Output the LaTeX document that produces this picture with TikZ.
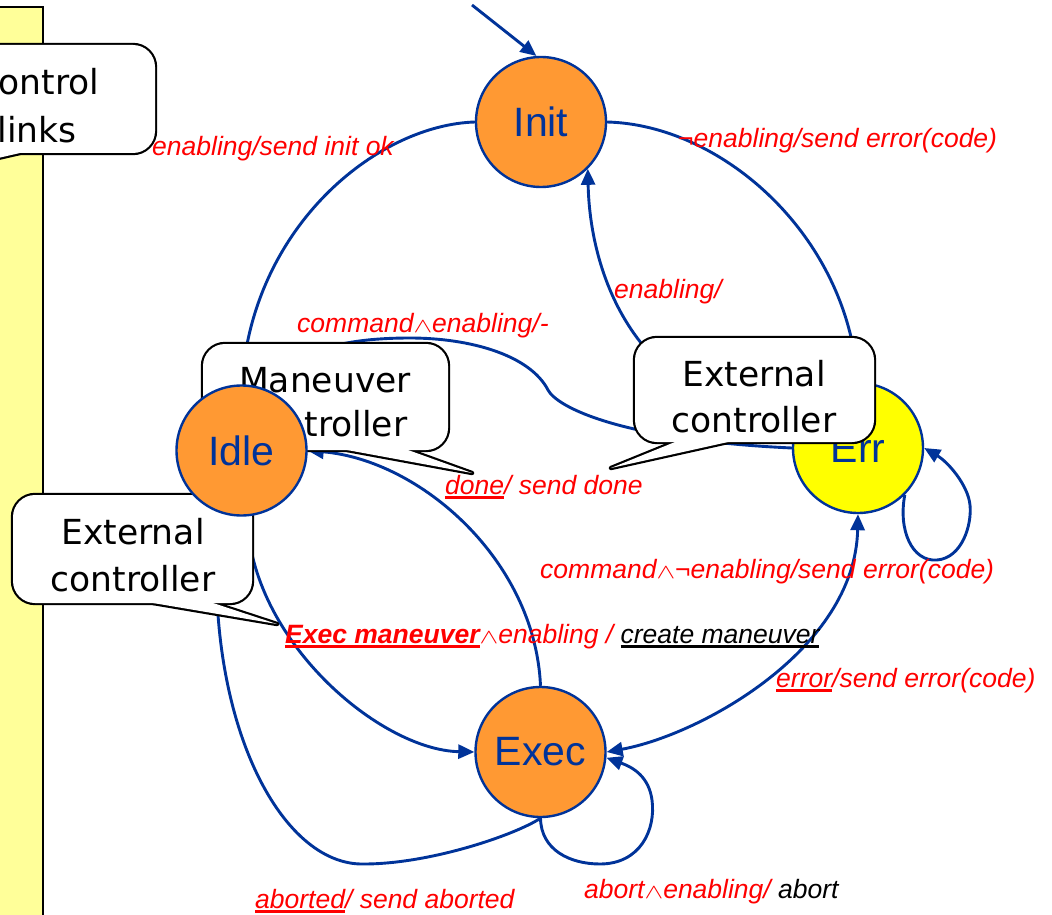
\documentclass[tikz,border=0pt]{standalone}
\usepackage{fontspec}
\usetikzlibrary{arrows.meta}

\newfontfamily\arialfam{Liberation Sans}
\newfontfamily\bubblefam{DejaVu Sans}

\definecolor{edgeblue}{RGB}{0,51,153}
\definecolor{stateorange}{RGB}{255,153,51}
\definecolor{erryellow}{RGB}{255,255,0}
\definecolor{baryellow}{RGB}{255,255,153}

\pgfdeclarelayer{backdrop}
\pgfdeclarelayer{wires}
\pgfdeclarelayer{bubbles}
\pgfdeclarelayer{upper}
\pgfsetlayers{backdrop,wires,main,bubbles,upper}

% thick underline in a given colour
\newcommand\undl[2][red]{\setbox0=\hbox{#2}\rlap{\textcolor{#1}{\rule[-5pt]{\wd0}{2.6pt}}}\box0}
% small, wide logical-and sign
\newcommand\andsym{{\fontsize{20}{20}\selectfont\scalebox{1.35}[1.0]{$\wedge$}}}

% speech bubble: left, top, right, bottom, tail base x1, tail base x2, tip x, tip y
\newcommand\bubbleshape[8]{%
  \draw[bubble outline] (#1,#2) rectangle (#3,#4);
  \draw[tail outline] (#5,#4) -- (#7,#8) -- (#6,#4) -- cycle;
  \fill[white, rounded corners=22pt] (#1,#2) rectangle (#3,#4);
  \fill[white] (#5,#4) -- (#7,#8) -- (#6,#4) -- cycle;
}

\tikzset{
  >={Triangle[length=16pt,width=14pt]},
  state/.style={circle, draw=edgeblue, line width=2.4pt, fill=stateorange,
    minimum size=130pt, inner sep=0pt, text=edgeblue,
    font=\arialfam\fontsize{41}{41}\selectfont},
  wire/.style={draw=edgeblue, line width=2.9pt, ->},
  lab/.style={anchor=base west, inner sep=0pt, text=red,
    font=\arialfam\itshape\fontsize{26.5}{30}\selectfont},
  bubble text/.style={align=center, inner sep=0pt, text=black,
    font=\bubblefam\fontsize{34.5}{46}\selectfont},
  bubble outline/.style={draw=black, line width=4.4pt, rounded corners=22pt},
  tail outline/.style={draw=black, line width=4.4pt, line join=round},
}

\begin{document}
\begin{tikzpicture}[x=1pt,y=-1pt]
\useasboundingbox (0,0) rectangle (1052,915);

% side bar
\begin{pgfonlayer}{backdrop}
  \fill[baryellow] (-20,7) rectangle (43,940);
  \draw[black, line width=1.8pt] (-20,7) rectangle (43,940);
\end{pgfonlayer}

% states
\node[state] (init) at (541,122) {Init};
\node[state] (exec) at (540.5,752) {Exec};
\node[state, fill=erryellow] (err) at (858,448) {Err};
\begin{pgfonlayer}{upper}
  \node[state] (idle) at (241.5,450.5) {Idle};
\end{pgfonlayer}
\coordinate (start) at (472,5);

% transitions
\begin{pgfonlayer}{wires}
  \draw[wire] (start) -- (init.94);
  \draw[wire] (init.west) .. controls (380,125) and (260,220) .. (idle.north);
  \draw[wire] (init.east) .. controls (720,125) and (840,230) .. (err.north);
  \draw[wire] (err.155) .. controls (640,410) and (590,280) .. (init.-45);
  \draw[wire] (err.west) .. controls (620,440) and (557,407) .. (548,390)
     .. controls (530,355) and (470,338) .. (410,338)
     .. controls (360,338) and (300,345) .. (idle.60);
  \draw[wire] (idle.-85) .. controls (250,640) and (380,750) .. (exec.west);
  \draw[wire] (exec.north) .. controls (535,560) and (420,460) .. (idle.east);
  \draw[wire] (exec.south) .. controls (515,835) and (430,864) .. (364,864)
     .. controls (280,866) and (205,720) .. (idle.-110);
  \draw[wire] (exec.south) .. controls (541,850) and (570,864) .. (600,864)
     .. controls (640,864) and (656,830) .. (652,800)
     .. controls (649,778) and (635,768) .. (exec.-5);
  \draw[wire, <->] (err.south) .. controls (855,650) and (700,735) .. (exec.east);
  \draw[wire] (err.-45) .. controls (898,530) and (912,562) .. (937,560)
     .. controls (962,558) and (972,525) .. (970,505)
     .. controls (968,485) and (948,462) .. (err.0);
\end{pgfonlayer}

% speech bubbles
\begin{pgfonlayer}{bubbles}
  \bubbleshape{-80}{45}{155}{153}{-40}{20}{-120}{185}
  \node[bubble text] (linksnote) at (37,106) {Control\\[2pt]links};
  \bubbleshape{203}{344}{448}{450}{347}{408}{472}{473}
  \node[bubble text] (mancontrol) at (325,402) {Maneuver\\[-2pt]controller};
  \bubbleshape{635}{338}{874}{442}{675}{728}{611}{468}
  \node[bubble text] (extright) at (754,397) {External\\controller};
  \bubbleshape{13}{495}{252}{603}{153}{213}{277}{624}
  \node[bubble text] (extleft) at (133,555.5) {External\\[1pt]controller};
\end{pgfonlayer}

% transition labels
\begin{pgfonlayer}{upper}
  \node[lab] (lbinit) at (152,155) {enabling/send init ok};
  \node[lab] (lberrtop) at (678,147) {¬enabling/send error(code)};
  \node[lab] (lbenab) at (614,298) {enabling/};
  \node[lab] (lbcmd) at (297,332) {command\andsym enabling/-};
  \node[lab] (lbdone) at (445,494) {\undl{done}/ send done};
  \node[lab] (lbcmderr) at (540,578) {command\andsym{}¬enabling/send error(code)};
  \node[lab] (lbexec) at (285,643) {\undl{\bfseries Exec maneuver}\andsym enabling / \undl[black]{\color{black}create maneuver}};
  \node[lab] (lberror) at (776,687) {\undl{error}/send error(code)};
  \node[lab] (lbabt) at (255,908) {\undl{aborted}/ send aborted};
  \node[lab] (lbabort) at (584,898) {abort\andsym enabling/ {\color{black}abort}};
\end{pgfonlayer}
\end{tikzpicture}
\end{document}
